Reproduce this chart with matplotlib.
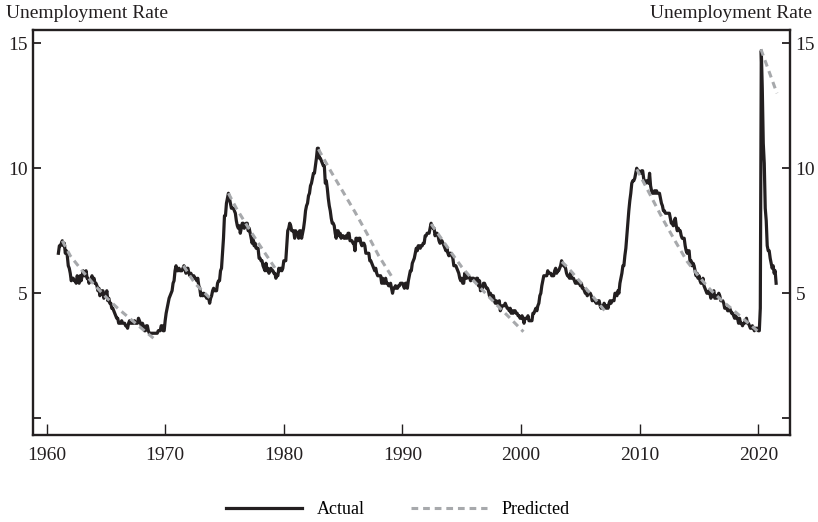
import numpy as np
import matplotlib
matplotlib.use("Agg")
import matplotlib.pyplot as plt

# Monthly unemployment rate (actual), Jan 1961 - Jul 2021
start_year = 1961
actual_1960s = [
    6.6, 6.9, 6.9, 7.0, 7.1, 6.9, 7.0, 6.6, 6.7, 6.5, 6.1, 6.0,
    5.8, 5.5, 5.6, 5.6, 5.5, 5.5, 5.4, 5.7, 5.6, 5.4, 5.7, 5.5,
    5.7, 5.9, 5.7, 5.7, 5.9, 5.6, 5.6, 5.4, 5.5, 5.5, 5.7, 5.5,
    5.6, 5.4, 5.4, 5.3, 5.1, 5.2, 4.9, 5.0, 5.1, 5.1, 4.8, 5.0,
    4.9, 5.1, 4.7, 4.8, 4.6, 4.6, 4.4, 4.4, 4.3, 4.2, 4.1, 4.0,
    4.0, 3.8, 3.8, 3.8, 3.9, 3.8, 3.8, 3.8, 3.7, 3.7, 3.6, 3.8,
    3.9, 3.8, 3.8, 3.8, 3.8, 3.9, 3.8, 3.8, 3.8, 4.0, 3.9, 3.8,
    3.7, 3.8, 3.7, 3.5, 3.5, 3.7, 3.7, 3.5, 3.4, 3.4, 3.4, 3.4,
    3.4, 3.4, 3.4, 3.4, 3.4, 3.5, 3.5, 3.5, 3.7, 3.7, 3.5, 3.5,
]
actual_1970s = [
    3.9, 4.2, 4.4, 4.6, 4.8, 4.9, 5.0, 5.1, 5.4, 5.5, 5.9, 6.1,
    5.9, 5.9, 6.0, 5.9, 5.9, 5.9, 6.0, 6.1, 6.0, 5.8, 6.0, 6.0,
    5.8, 5.7, 5.8, 5.7, 5.7, 5.7, 5.6, 5.6, 5.5, 5.6, 5.3, 5.2,
    4.9, 5.0, 4.9, 5.0, 4.9, 4.9, 4.8, 4.8, 4.8, 4.6, 4.8, 4.9,
    5.1, 5.2, 5.1, 5.1, 5.1, 5.4, 5.5, 5.5, 5.9, 6.0, 6.6, 7.2,
    8.1, 8.1, 8.6, 8.8, 9.0, 8.8, 8.6, 8.4, 8.4, 8.4, 8.3, 8.2,
    7.9, 7.7, 7.6, 7.7, 7.4, 7.6, 7.8, 7.8, 7.6, 7.7, 7.8, 7.8,
    7.5, 7.6, 7.4, 7.2, 7.0, 7.2, 6.9, 7.0, 6.8, 6.8, 6.8, 6.4,
    6.4, 6.3, 6.3, 6.1, 6.0, 5.9, 6.2, 5.9, 6.0, 5.8, 5.9, 6.0,
    5.9, 5.9, 5.8, 5.8, 5.6, 5.7, 5.7, 6.0, 5.9, 6.0, 5.9, 6.0,
]
actual_1980s = [
    6.3, 6.3, 6.3, 6.9, 7.5, 7.6, 7.8, 7.7, 7.5, 7.5, 7.5, 7.2,
    7.5, 7.4, 7.4, 7.2, 7.5, 7.5, 7.2, 7.4, 7.6, 7.9, 8.3, 8.5,
    8.6, 8.9, 9.0, 9.3, 9.4, 9.6, 9.8, 9.8, 10.1, 10.4, 10.8, 10.8,
    10.4, 10.4, 10.3, 10.2, 10.1, 10.1, 9.4, 9.5, 9.2, 8.8, 8.5, 8.3,
    8.0, 7.8, 7.8, 7.7, 7.4, 7.2, 7.5, 7.5, 7.3, 7.4, 7.2, 7.3,
    7.3, 7.2, 7.2, 7.3, 7.2, 7.4, 7.4, 7.1, 7.1, 7.1, 7.0, 7.0,
    6.7, 7.2, 7.2, 7.1, 7.2, 7.2, 7.0, 6.9, 7.0, 7.0, 6.9, 6.6,
    6.6, 6.6, 6.6, 6.3, 6.3, 6.2, 6.1, 6.0, 5.9, 6.0, 5.8, 5.7,
    5.7, 5.7, 5.7, 5.4, 5.6, 5.4, 5.4, 5.6, 5.4, 5.4, 5.3, 5.3,
    5.4, 5.2, 5.0, 5.2, 5.2, 5.3, 5.2, 5.2, 5.3, 5.3, 5.4, 5.4,
]
actual_1990s = [
    5.4, 5.3, 5.2, 5.4, 5.4, 5.2, 5.5, 5.7, 5.9, 5.9, 6.2, 6.3,
    6.4, 6.6, 6.8, 6.7, 6.9, 6.9, 6.8, 6.9, 6.9, 7.0, 7.0, 7.3,
    7.3, 7.4, 7.4, 7.4, 7.6, 7.8, 7.7, 7.6, 7.6, 7.3, 7.4, 7.4,
    7.3, 7.1, 7.0, 7.1, 7.1, 7.0, 6.9, 6.8, 6.7, 6.8, 6.6, 6.5,
    6.6, 6.6, 6.5, 6.4, 6.1, 6.1, 6.1, 6.0, 5.9, 5.8, 5.6, 5.5,
    5.6, 5.4, 5.4, 5.8, 5.6, 5.6, 5.7, 5.7, 5.6, 5.5, 5.6, 5.6,
    5.6, 5.5, 5.5, 5.6, 5.6, 5.3, 5.5, 5.1, 5.2, 5.2, 5.4, 5.4,
    5.3, 5.2, 5.2, 5.1, 4.9, 5.0, 4.9, 4.8, 4.9, 4.7, 4.6, 4.7,
    4.6, 4.6, 4.7, 4.3, 4.4, 4.5, 4.5, 4.5, 4.6, 4.5, 4.4, 4.4,
    4.3, 4.4, 4.2, 4.3, 4.2, 4.3, 4.3, 4.2, 4.2, 4.1, 4.1, 4.0,
]
actual_2000s = [
    4.0, 4.1, 4.0, 3.8, 4.0, 4.0, 4.0, 4.1, 3.9, 3.9, 3.9, 3.9,
    4.2, 4.2, 4.3, 4.4, 4.3, 4.5, 4.6, 4.9, 5.0, 5.3, 5.5, 5.7,
    5.7, 5.7, 5.7, 5.9, 5.8, 5.8, 5.8, 5.7, 5.7, 5.7, 5.9, 6.0,
    5.8, 5.9, 5.9, 6.0, 6.1, 6.3, 6.2, 6.1, 6.1, 6.0, 5.8, 5.7,
    5.7, 5.6, 5.8, 5.6, 5.6, 5.6, 5.5, 5.4, 5.4, 5.5, 5.4, 5.4,
    5.3, 5.4, 5.2, 5.2, 5.1, 5.0, 5.0, 4.9, 5.0, 5.0, 5.0, 4.9,
    4.7, 4.8, 4.7, 4.7, 4.6, 4.6, 4.7, 4.7, 4.5, 4.4, 4.5, 4.4,
    4.6, 4.5, 4.4, 4.5, 4.4, 4.6, 4.7, 4.6, 4.7, 4.7, 4.7, 5.0,
    5.0, 4.9, 5.1, 5.0, 5.4, 5.6, 5.8, 6.1, 6.1, 6.5, 6.8, 7.3,
    7.8, 8.3, 8.7, 9.0, 9.4, 9.5, 9.5, 9.6, 9.8, 10.0, 9.9, 9.9,
]
actual_2010s = [
    9.8, 9.8, 9.9, 9.9, 9.6, 9.4, 9.4, 9.5, 9.5, 9.4, 9.8, 9.3,
    9.1, 9.0, 9.0, 9.1, 9.0, 9.1, 9.0, 9.0, 9.0, 8.8, 8.6, 8.5,
    8.3, 8.3, 8.2, 8.2, 8.2, 8.2, 8.2, 8.0, 7.8, 7.8, 7.7, 7.9,
    8.0, 7.7, 7.5, 7.6, 7.5, 7.5, 7.3, 7.2, 7.2, 7.2, 6.9, 6.7,
    6.6, 6.7, 6.7, 6.2, 6.3, 6.1, 6.2, 6.1, 5.9, 5.7, 5.8, 5.6,
    5.7, 5.5, 5.4, 5.4, 5.6, 5.3, 5.2, 5.1, 5.0, 5.0, 5.1, 5.0,
    4.8, 4.9, 5.0, 5.1, 4.8, 4.9, 4.8, 4.9, 5.0, 4.9, 4.7, 4.7,
    4.7, 4.6, 4.4, 4.4, 4.4, 4.3, 4.3, 4.4, 4.3, 4.2, 4.2, 4.1,
    4.0, 4.1, 4.0, 4.0, 3.8, 4.0, 3.8, 3.8, 3.7, 3.8, 3.8, 3.9,
    4.0, 3.8, 3.8, 3.7, 3.6, 3.6, 3.7, 3.6, 3.5, 3.6, 3.6, 3.6,
]
actual_2020s = [
    3.5, 3.5, 4.4, 14.7, 13.2, 11.0, 10.2, 8.4, 7.9, 6.9, 6.7, 6.7,
    6.4, 6.2, 6.0, 6.1, 5.8, 5.9, 5.4,
]

# Predicted paths: (year, rate) points per episode
pred_years = [
    [1961.33, 1962, 1963, 1964, 1965, 1966, 1967, 1968, 1969.15],
    [1971.54, 1972.5, 1973.93],
    [1975.33, 1976, 1977, 1978, 1979.27],
    [1982.92, 1984, 1985, 1986, 1987, 1988, 1989.11],
    [1992.42, 1993, 1994, 1995, 1996, 1997, 1998, 1999, 2000.2],
    [2003.44, 2004, 2005, 2006, 2007.23],
    [2009.76, 2011, 2012, 2013, 2014, 2015, 2016, 2017, 2018, 2019, 2020.0],
    [2020.22, 2021.57],
]
pred_values = [
    [7.1, 6.5, 5.9, 5.35, 4.85, 4.4, 4.0, 3.6, 3.15],
    [6.1, 5.4, 4.73],
    [9.0, 8.4, 7.63, 6.9, 6.0],
    [10.76, 9.85, 9.05, 8.25, 7.4, 6.5, 5.66],
    [7.77, 7.38, 6.7, 6.05, 5.5, 5.0, 4.51, 4.04, 3.46],
    [6.26, 6.0, 5.45, 4.9, 4.2],
    [9.96, 8.83, 7.92, 7.08, 6.27, 5.66, 5.12, 4.68, 4.28, 3.87, 3.46],
    [14.76, 13.0],
]

x_ticks = [1960, 1970, 1980, 1990, 2000, 2010, 2020]
y_ticks = [0, 5, 10, 15]
y_ticklabels = ["", "5", "10", "15"]

actual = np.array(actual_1960s + actual_1970s + actual_1980s + actual_1990s
                  + actual_2000s + actual_2010s + actual_2020s)
t = start_year + np.arange(len(actual)) / 12.0

plt.rcParams['font.family'] = ['Liberation Serif', 'DejaVu Serif']

fig = plt.figure(figsize=(8.18, 5.22), dpi=100)
ax = fig.add_axes([33 / 818, 87 / 522, (790 - 33) / 818, (435 - 30) / 522])

ink = '#231f20'
gray = '#a7a9ac'
ax.plot(t, actual, color=ink, lw=2.3, solid_joinstyle='round', label='Actual', zorder=2)
for i, (xs, ys) in enumerate(zip(pred_years, pred_values)):
    ax.plot(xs, ys, color=gray, lw=2.2, linestyle=(0, (2.2, 1.6)),
            label='Predicted' if i == 0 else None, zorder=3)

ax.set_xlim(1958.86, 2022.67)
ax.set_ylim(-0.67, 15.53)
ax.set_xticks(x_ticks)
ax.set_yticks(y_ticks)
ax.set_yticklabels(y_ticklabels)

for s in ax.spines.values():
    s.set_linewidth(1.7)
    s.set_color(ink)
ax.tick_params(axis='y', which='both', direction='in', length=6, width=1.3,
               left=True, right=True, labelleft=True, labelright=True,
               labelsize=14, pad=4, colors=ink)
ax.tick_params(axis='x', direction='in', length=8, width=1.0,
               labelsize=14, pad=9, colors=ink)

fig.text(6 / 818, 1 - 13 / 522, 'Unemployment Rate', ha='left', va='center',
         fontsize=14, color=ink)
fig.text(812 / 818, 1 - 13 / 522, 'Unemployment Rate', ha='right', va='center',
         fontsize=14, color=ink)

fig.legend(loc='center', bbox_to_anchor=(398 / 818, 1 - 510 / 522), ncol=2,
           frameon=False, fontsize=13, handlelength=4.2, columnspacing=2.6,
           handletextpad=0.8)

fig.savefig('out.png', dpi=100)
